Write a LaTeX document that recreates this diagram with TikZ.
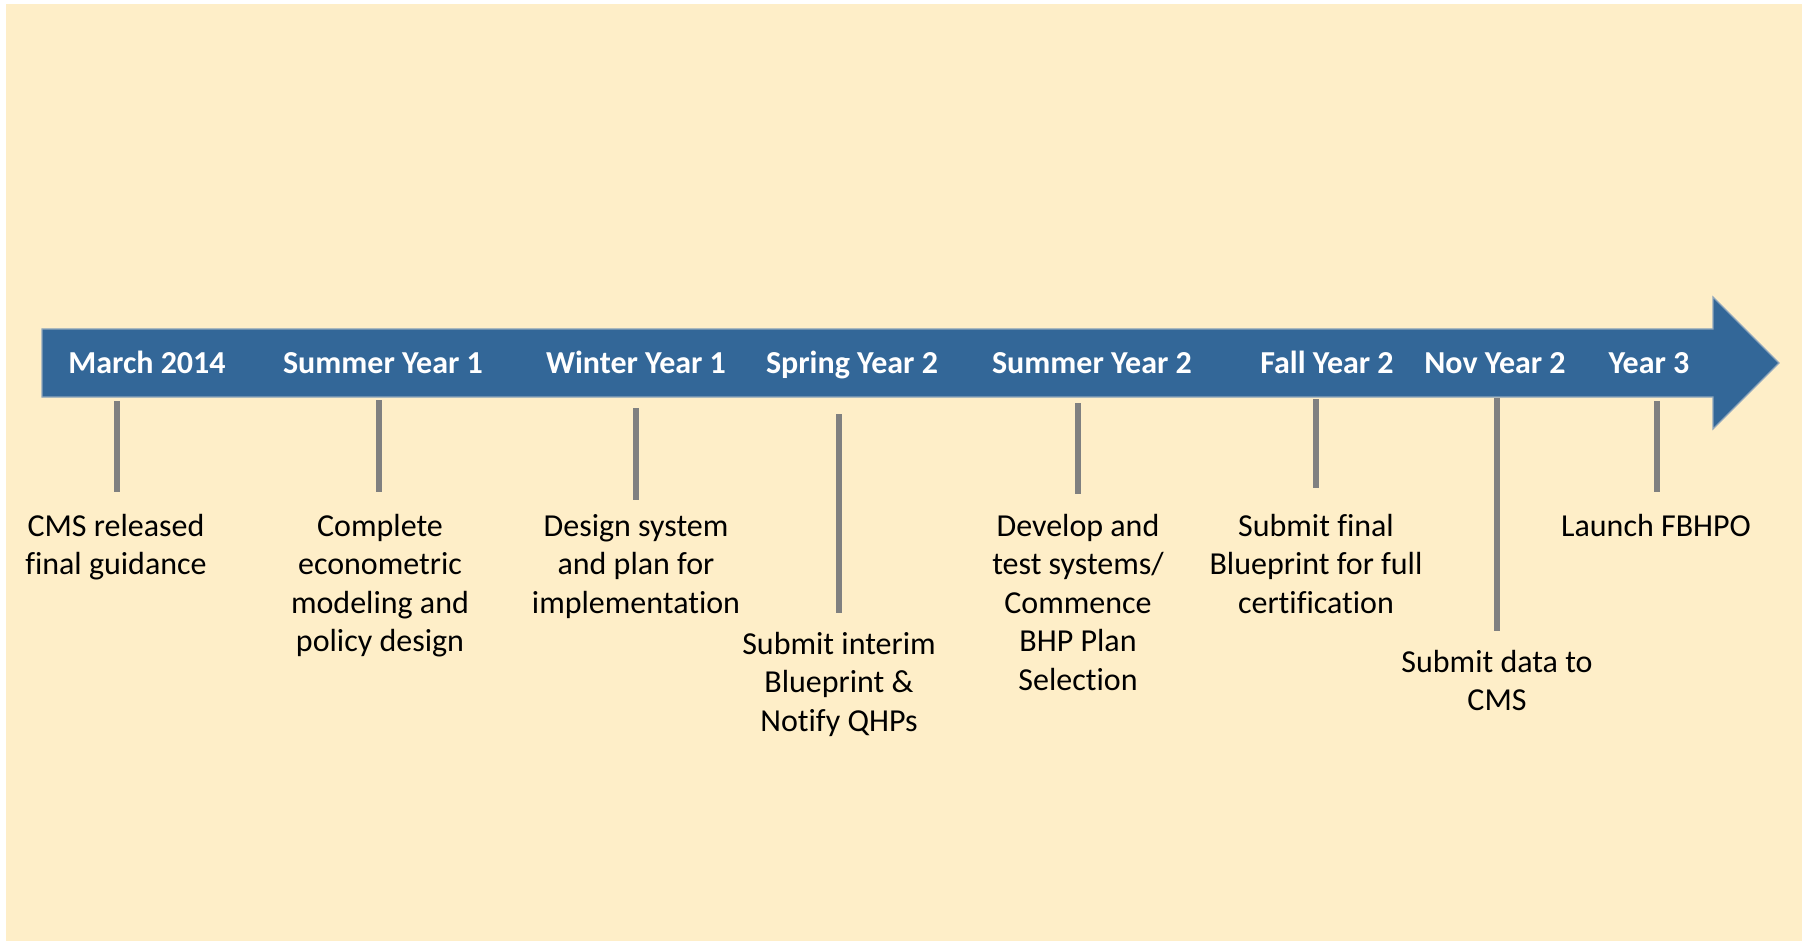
\documentclass[tikz,border=0pt]{standalone}
\usepackage{fontspec}
\setmainfont{Carlito}[Ligatures=NoCommon]
\definecolor{cream}{HTML}{FEEEC8}
\definecolor{barblue}{HTML}{336798}
\definecolor{barline}{HTML}{8FA6BC}
\definecolor{tickgray}{HTML}{808080}
\begin{document}
\begin{tikzpicture}[x=1pt,y=-1pt,
  datelbl/.style={font=\fontsize{32}{38}\selectfont\bfseries, text=white, inner sep=0pt, anchor=base},
  eventlbl/.style={font=\fontsize{32}{38.5}\selectfont, text=black, inner sep=0pt, align=center, anchor=north},
  tickline/.style={draw=tickgray, line width=6pt}]
\useasboundingbox (0,0) rectangle (1802,941);
\fill[white] (0,0) rectangle (1802,941);
\fill[cream] (6,4) rectangle (1802,941);
% arrow
\filldraw[fill=barblue, draw=barline, line width=1.2pt]
  (42,329) -- (1713,329) -- (1713,297) -- (1779,363) -- (1713,429) -- (1713,397) -- (42,397) -- cycle;
% dates
\node[datelbl] (d1) at (147,373) {March 2014};
\node[datelbl] (d2) at (383,373) {Summer Year 1};
\node[datelbl] (d3) at (636,373) {Winter Year 1};
\node[datelbl] (d4) at (852,373) {Spring Year 2};
\node[datelbl] (d5) at (1092,373) {Summer Year 2};
\node[datelbl] (d6) at (1327,373) {Fall Year 2};
\node[datelbl] (d7) at (1495,373) {Nov Year 2};
\node[datelbl] (d8) at (1649,373) {Year 3};
% tick coordinates
\coordinate (t1a) at (117,401); \coordinate (t1b) at (117,492);
\coordinate (t2a) at (379,400); \coordinate (t2b) at (379,492);
\coordinate (t3a) at (636,408); \coordinate (t3b) at (636,500);
\coordinate (t4a) at (839,414); \coordinate (t4b) at (839,613);
\coordinate (t5a) at (1078,403); \coordinate (t5b) at (1078,494);
\coordinate (t6a) at (1316,399); \coordinate (t6b) at (1316,488);
\coordinate (t7a) at (1497,398); \coordinate (t7b) at (1497,631);
\coordinate (t8a) at (1657,401); \coordinate (t8b) at (1657,492);
\foreach \i in {1,...,8} {\draw[tickline] (t\i a) -- (t\i b);}
% events
\node[eventlbl] (e1) at (116,514) {CMS released\\final guidance};
\node[eventlbl] (e2) at (380,514) {Complete\\econometric\\modeling and\\policy design};
\node[eventlbl] (e3) at (636,514) {Design system\\and plan for\\implementation};
\node[eventlbl] (e4) at (839,632) {Submit interim\\Blueprint \&\\Notify QHPs};
\node[eventlbl] (e5) at (1078,514) {Develop and\\test systems/\\Commence\\BHP Plan\\Selection};
\node[eventlbl] (e6) at (1316,514) {Submit final\\Blueprint for full\\certification};
\node[eventlbl] (e7) at (1497,650) {Submit data to\\CMS};
\node[eventlbl] (e8) at (1656,514) {Launch FBHPO};
\end{tikzpicture}
\end{document}
